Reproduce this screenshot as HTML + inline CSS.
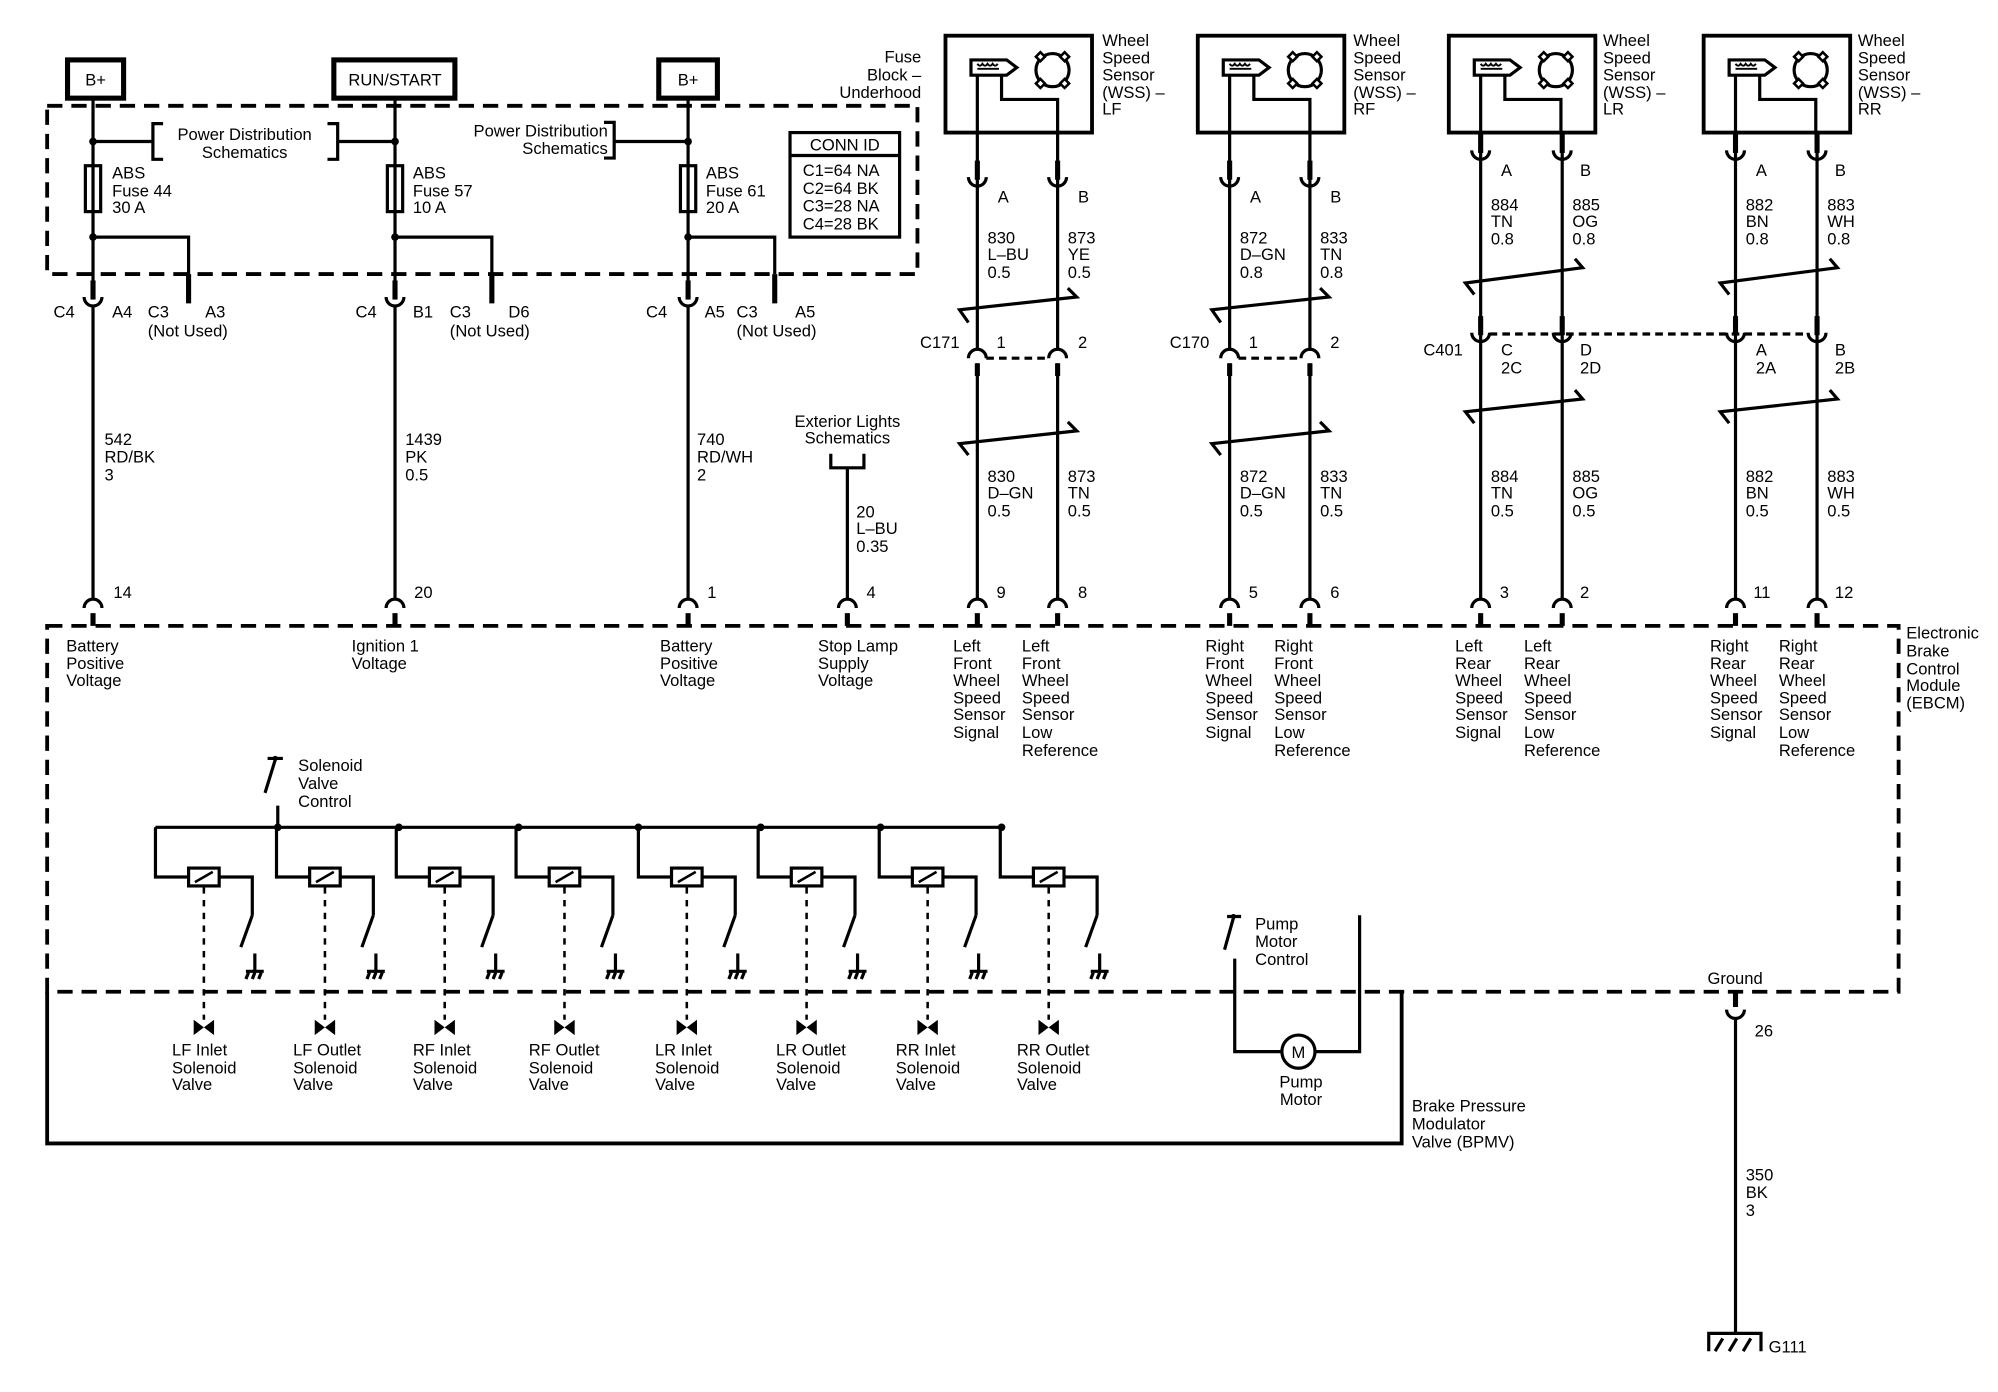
<!DOCTYPE html>
<html><head><meta charset="utf-8"><style>
html,body{margin:0;padding:0;background:#fff;}
svg{display:block;}
text{font-family:"Liberation Sans",Arial,sans-serif;font-size:13px;fill:#000;}
</style></head><body>
<svg width="1998" height="1392" viewBox="0 0 1568 1092" preserveAspectRatio="none" xmlns="http://www.w3.org/2000/svg">
<defs>
<g id="cupD"><path d="M-7,0 A7,7 0 0 0 7,0" fill="none" stroke="#000" stroke-width="2.5"/><line x1="0" y1="-13" x2="0" y2="2" stroke="#000" stroke-width="4"/></g>
<g id="capU"><path d="M-7,0 A7,7 0 0 1 7,0" fill="none" stroke="#000" stroke-width="2.5"/><line x1="0" y1="4" x2="0" y2="14" stroke="#000" stroke-width="4"/></g>
<g id="sensor">
<rect x="742" y="28" width="115" height="76" fill="none" stroke="#000" stroke-width="3"/>
<path d="M767,59 L767,104 M786,59 L786,78 L830,78 L830,104" fill="none" stroke="#000" stroke-width="2.5"/>
<path d="M762,47 L790,47 L798,53 L790,59 L762,59 Z" fill="#fff" stroke="#000" stroke-width="2.5"/>
<path d="M767,50 q2,3 4,0 q2,3 4,0 q2,3 4,0 q2,3 4,0 M767,54 L784,54" fill="none" stroke="#000" stroke-width="1.5"/>
<circle cx="826" cy="55" r="13" fill="none" stroke="#000" stroke-width="2.5"/>
<g fill="#fff" stroke="#000" stroke-width="2">
<rect x="814" y="42" width="5" height="5" transform="rotate(45 816.5 44.5)"/>
<rect x="833" y="42" width="5" height="5" transform="rotate(45 835.5 44.5)"/>
<rect x="814" y="63" width="5" height="5" transform="rotate(45 816.5 65.5)"/>
<rect x="833" y="63" width="5" height="5" transform="rotate(45 835.5 65.5)"/>
</g>
</g>
<g id="sol">
<path d="M-38,649 L-38,688 L-12,688 M12,688 L38,688 L38,718 M38,718 L29,743 M40,748 L40,762 M33,762 L47,762 M35,763 L33,768 M40,763 L38,768 M45,763 L43,768" fill="none" stroke="#000" stroke-width="2.5"/>
<rect x="-12" y="681" width="24" height="14" fill="#fff" stroke="#000" stroke-width="2.5"/>
<line x1="-7" y1="692" x2="7" y2="684" stroke="#000" stroke-width="2"/>
<line x1="0" y1="696" x2="0" y2="800" stroke="#000" stroke-width="2" stroke-dasharray="5 5"/>
<path d="M-8,800 L0,806 L-8,812 Z M8,800 L0,806 L8,812 Z" fill="#000"/>
</g>
</defs>
<g fill="none" stroke="#000">
<!-- power boxes -->
<rect x="53" y="47" width="44" height="30" stroke-width="4"/>
<rect x="262" y="47" width="95" height="30" stroke-width="4"/>
<rect x="517" y="47" width="46" height="30" stroke-width="4"/>
<!-- dashed fuse block -->
<rect x="37" y="83" width="683" height="132" stroke-width="3" stroke-dasharray="12 7"/>
<path d="M73,77 L73,230 M310,77 L310,230 M540,77 L540,230" stroke-width="2.5"/>
<path d="M73,186 L148,186 L148,215 M310,186 L386,186 L386,215 M540,186 L608,186 L608,215" stroke-width="2.5"/>
<path d="M148,215 L148,238 M386,215 L386,238 M608,215 L608,238" stroke-width="4"/>
<path d="M73,111 L120,111 M128,97 L120,97 L120,125 L128,125 M257,97 L265,97 L265,125 L257,125 M265,111 L310,111" stroke-width="2.5"/>
<path d="M474,96 L482,96 L482,124 L474,124 M482,111 L540,111" stroke-width="2.5"/>
<rect x="67" y="130" width="12" height="36" stroke-width="2.5"/>
<rect x="304" y="130" width="12" height="36" stroke-width="2.5"/>
<rect x="534" y="130" width="12" height="36" stroke-width="2.5"/>
<rect x="620" y="104" width="86" height="82" stroke-width="2.5"/>
<line x1="620" y1="122" x2="706" y2="122" stroke-width="2.5"/>
<!-- main wires -->
<path d="M73,240 L73,471 M310,240 L310,471 M540,240 L540,471 M665,367 L665,471 M652,356 L652,367 L678,367 L678,356" stroke-width="2.5"/>
<!-- EBCM & BPMV -->
<path d="M37,491 L1490,491 L1490,778 L37,778 Z" stroke-width="3" stroke-dasharray="12 7"/>
<path d="M37,778 L37,897 L1100,897 L1100,778" stroke-width="3"/>
<!-- sensor wiring LF/RF -->
<path d="M767,104 L767,274 M830,104 L830,274 M767,285 L767,471 M830,285 L830,471" stroke-width="2.5"/>
<path d="M965,104 L965,274 M1028,104 L1028,274 M965,285 L965,471 M1028,285 L1028,471" stroke-width="2.5"/>
<path d="M760,253 L753,243 L845,233 L838,226 M760,357 L753,348 L845,338 L838,331" stroke-width="2.5"/>
<path d="M958,253 L951,243 L1043,233 L1036,226 M958,357 L951,348 L1043,338 L1036,331" stroke-width="2.5"/>
<path d="M774,281 L823,281 M972,281 L1021,281" stroke-width="2.5" stroke-dasharray="6 4"/>
<!-- LR/RR -->
<path d="M1162,104 L1162,471 M1226,104 L1226,471 M1362,104 L1362,471 M1426,104 L1426,471" stroke-width="2.5"/>
<path d="M1157,231 L1150,222 L1242,210 L1236,203 M1157,332 L1150,323 L1242,313 L1236,306" stroke-width="2.5"/>
<path d="M1357,231 L1350,222 L1442,210 L1436,203 M1357,332 L1350,323 L1442,313 L1436,306" stroke-width="2.5"/>
<path d="M1169,262 L1419,262" stroke-width="2.5" stroke-dasharray="6 4"/>
<!-- solenoid control -->
<path d="M210,595 L222,595 M216,596 L208,622 M218,632 L218,649 M122,649 L788,649" stroke-width="2.5"/>
<!-- pump -->
<path d="M963,719 L974,719 M968,720 L961,745 M969,752 L969,825 L1006,825 M1032,825 L1067,825 L1067,718" stroke-width="2.5"/>
<circle cx="1019" cy="825" r="13" stroke-width="2.5"/>
<!-- ground -->
<path d="M1362,778 L1362,790" stroke-width="4"/>
<path d="M1355,792 A7,7 0 0 0 1369,792 M1362,799 L1362,1046 M1341,1060 L1341,1046 L1382,1046 L1382,1060 M1346,1060 L1352,1050 M1357,1060 L1363,1050 M1368,1060 L1374,1050" stroke-width="2.5"/>
</g>
<g fill="#000">
<circle cx="73" cy="111" r="3"/><circle cx="310" cy="111" r="3"/><circle cx="540" cy="111" r="3"/>
<circle cx="73" cy="186" r="3"/><circle cx="310" cy="186" r="3"/><circle cx="540" cy="186" r="3"/>
<circle cx="218" cy="649" r="3"/><circle cx="313" cy="649" r="3"/><circle cx="407" cy="649" r="3"/><circle cx="501" cy="649" r="3"/><circle cx="597" cy="649" r="3"/><circle cx="691" cy="649" r="3"/><circle cx="786" cy="649" r="3"/>
<circle cx="216" cy="595" r="2"/><circle cx="968" cy="719" r="2"/>
</g>
<!-- connectors -->
<use href="#cupD" x="73" y="233"/><use href="#cupD" x="310" y="233"/><use href="#cupD" x="540" y="233"/>
<use href="#capU" x="73" y="477"/><use href="#capU" x="310" y="477"/><use href="#capU" x="540" y="477"/><use href="#capU" x="665" y="477"/>
<use href="#capU" x="767" y="477"/><use href="#capU" x="830" y="477"/><use href="#capU" x="965" y="477"/><use href="#capU" x="1028" y="477"/>
<use href="#capU" x="1162" y="477"/><use href="#capU" x="1226" y="477"/><use href="#capU" x="1362" y="477"/><use href="#capU" x="1426" y="477"/>
<use href="#cupD" x="767" y="139"/><use href="#cupD" x="830" y="139"/><use href="#cupD" x="965" y="139"/><use href="#cupD" x="1028" y="139"/>
<use href="#cupD" x="1162" y="118"/><use href="#cupD" x="1226" y="118"/><use href="#cupD" x="1362" y="118"/><use href="#cupD" x="1426" y="118"/>
<use href="#cupD" x="1162" y="261"/><use href="#cupD" x="1226" y="261"/><use href="#cupD" x="1362" y="261"/><use href="#cupD" x="1426" y="261"/>
<use href="#capU" x="767" y="281"/><use href="#capU" x="830" y="281"/><use href="#capU" x="965" y="281"/><use href="#capU" x="1028" y="281"/>
<!-- sensors -->
<use href="#sensor"/><use href="#sensor" x="198"/><use href="#sensor" x="395"/><use href="#sensor" x="595"/>
<!-- solenoids -->
<use href="#sol" x="160"/><use href="#sol" x="255"/><use href="#sol" x="349"/><use href="#sol" x="443"/><use href="#sol" x="539"/><use href="#sol" x="633"/><use href="#sol" x="728"/><use href="#sol" x="823"/>

<!-- TEXT -->
<text x="75" y="67" text-anchor="middle" font-size="14">B+</text>
<text x="310" y="67" text-anchor="middle" font-size="14">RUN/START</text>
<text x="540" y="67" text-anchor="middle" font-size="14">B+</text>
<text x="192" y="110" text-anchor="middle">Power Distribution</text>
<text x="192" y="124" text-anchor="middle">Schematics</text>
<text x="477" y="107" text-anchor="end">Power Distribution</text>
<text x="477" y="121" text-anchor="end">Schematics</text>
<text x="723" y="49" text-anchor="end">Fuse</text>
<text x="723" y="63" text-anchor="end">Block –</text>
<text x="723" y="77" text-anchor="end">Underhood</text>
<text x="88" y="140">ABS</text><text x="88" y="154">Fuse 44</text><text x="88" y="167">30 A</text>
<text x="324" y="140">ABS</text><text x="324" y="154">Fuse 57</text><text x="324" y="167">10 A</text>
<text x="554" y="140">ABS</text><text x="554" y="154">Fuse 61</text><text x="554" y="167">20 A</text>
<text x="663" y="118" text-anchor="middle">CONN ID</text>
<text x="630" y="138">C1=64 NA</text><text x="630" y="152">C2=64 BK</text><text x="630" y="166">C3=28 NA</text><text x="630" y="180">C4=28 BK</text>
<text x="42" y="249">C4</text><text x="88" y="249">A4</text><text x="116" y="249">C3</text><text x="161" y="249">A3</text><text x="116" y="264">(Not Used)</text>
<text x="279" y="249">C4</text><text x="324" y="249">B1</text><text x="353" y="249">C3</text><text x="399" y="249">D6</text><text x="353" y="264">(Not Used)</text>
<text x="507" y="249">C4</text><text x="553" y="249">A5</text><text x="578" y="249">C3</text><text x="624" y="249">A5</text><text x="578" y="264">(Not Used)</text>
<text x="82" y="349">542</text><text x="82" y="363">RD/BK</text><text x="82" y="377">3</text>
<text x="318" y="349">1439</text><text x="318" y="363">PK</text><text x="318" y="377">0.5</text>
<text x="547" y="349">740</text><text x="547" y="363">RD/WH</text><text x="547" y="377">2</text>
<text x="665" y="335" text-anchor="middle">Exterior Lights</text><text x="665" y="348" text-anchor="middle">Schematics</text>
<text x="672" y="406">20</text><text x="672" y="419">L–BU</text><text x="672" y="433">0.35</text>
<text x="89" y="469">14</text><text x="325" y="469">20</text><text x="555" y="469">1</text><text x="680" y="469">4</text>
<text x="52" y="511">Battery</text><text x="52" y="525">Positive</text><text x="52" y="538">Voltage</text>
<text x="276" y="511">Ignition 1</text><text x="276" y="525">Voltage</text>
<text x="518" y="511">Battery</text><text x="518" y="525">Positive</text><text x="518" y="538">Voltage</text>
<text x="642" y="511">Stop Lamp</text><text x="642" y="525">Supply</text><text x="642" y="538">Voltage</text>
<!-- sensor labels -->
<text x="865" y="36">Wheel</text><text x="865" y="50">Speed</text><text x="865" y="63">Sensor</text><text x="865" y="77">(WSS) –</text><text x="865" y="90">LF</text>
<text x="1062" y="36">Wheel</text><text x="1062" y="50">Speed</text><text x="1062" y="63">Sensor</text><text x="1062" y="77">(WSS) –</text><text x="1062" y="90">RF</text>
<text x="1258" y="36">Wheel</text><text x="1258" y="50">Speed</text><text x="1258" y="63">Sensor</text><text x="1258" y="77">(WSS) –</text><text x="1258" y="90">LR</text>
<text x="1458" y="36">Wheel</text><text x="1458" y="50">Speed</text><text x="1458" y="63">Sensor</text><text x="1458" y="77">(WSS) –</text><text x="1458" y="90">RR</text>
<text x="783" y="159">A</text><text x="846" y="159">B</text><text x="981" y="159">A</text><text x="1044" y="159">B</text>
<text x="1178" y="138">A</text><text x="1240" y="138">B</text><text x="1378" y="138">A</text><text x="1440" y="138">B</text>
<text x="775" y="191">830</text><text x="775" y="204">L–BU</text><text x="775" y="218">0.5</text>
<text x="838" y="191">873</text><text x="838" y="204">YE</text><text x="838" y="218">0.5</text>
<text x="973" y="191">872</text><text x="973" y="204">D–GN</text><text x="973" y="218">0.8</text>
<text x="1036" y="191">833</text><text x="1036" y="204">TN</text><text x="1036" y="218">0.8</text>
<text x="1170" y="165">884</text><text x="1170" y="178">TN</text><text x="1170" y="192">0.8</text>
<text x="1234" y="165">885</text><text x="1234" y="178">OG</text><text x="1234" y="192">0.8</text>
<text x="1370" y="165">882</text><text x="1370" y="178">BN</text><text x="1370" y="192">0.8</text>
<text x="1434" y="165">883</text><text x="1434" y="178">WH</text><text x="1434" y="192">0.8</text>
<text x="722" y="273">C171</text><text x="782" y="273">1</text><text x="846" y="273">2</text>
<text x="918" y="273">C170</text><text x="980" y="273">1</text><text x="1044" y="273">2</text>
<text x="1117" y="279">C401</text><text x="1178" y="279">C</text><text x="1178" y="293">2C</text><text x="1240" y="279">D</text><text x="1240" y="293">2D</text>
<text x="1378" y="279">A</text><text x="1378" y="293">2A</text><text x="1440" y="279">B</text><text x="1440" y="293">2B</text>
<text x="775" y="378">830</text><text x="775" y="391">D–GN</text><text x="775" y="405">0.5</text>
<text x="838" y="378">873</text><text x="838" y="391">TN</text><text x="838" y="405">0.5</text>
<text x="973" y="378">872</text><text x="973" y="391">D–GN</text><text x="973" y="405">0.5</text>
<text x="1036" y="378">833</text><text x="1036" y="391">TN</text><text x="1036" y="405">0.5</text>
<text x="1170" y="378">884</text><text x="1170" y="391">TN</text><text x="1170" y="405">0.5</text>
<text x="1234" y="378">885</text><text x="1234" y="391">OG</text><text x="1234" y="405">0.5</text>
<text x="1370" y="378">882</text><text x="1370" y="391">BN</text><text x="1370" y="405">0.5</text>
<text x="1434" y="378">883</text><text x="1434" y="391">WH</text><text x="1434" y="405">0.5</text>
<text x="782" y="469">9</text><text x="846" y="469">8</text><text x="980" y="469">5</text><text x="1044" y="469">6</text>
<text x="1177" y="469">3</text><text x="1240" y="469">2</text><text x="1376" y="469">11</text><text x="1440" y="469">12</text>
<text x="748" y="511">Left</text><text x="748" y="525">Front</text><text x="748" y="538">Wheel</text><text x="748" y="552">Speed</text><text x="748" y="565">Sensor</text><text x="748" y="579">Signal</text>
<text x="802" y="511">Left</text><text x="802" y="525">Front</text><text x="802" y="538">Wheel</text><text x="802" y="552">Speed</text><text x="802" y="565">Sensor</text><text x="802" y="579">Low</text><text x="802" y="593">Reference</text>
<text x="946" y="511">Right</text><text x="946" y="525">Front</text><text x="946" y="538">Wheel</text><text x="946" y="552">Speed</text><text x="946" y="565">Sensor</text><text x="946" y="579">Signal</text>
<text x="1000" y="511">Right</text><text x="1000" y="525">Front</text><text x="1000" y="538">Wheel</text><text x="1000" y="552">Speed</text><text x="1000" y="565">Sensor</text><text x="1000" y="579">Low</text><text x="1000" y="593">Reference</text>
<text x="1142" y="511">Left</text><text x="1142" y="525">Rear</text><text x="1142" y="538">Wheel</text><text x="1142" y="552">Speed</text><text x="1142" y="565">Sensor</text><text x="1142" y="579">Signal</text>
<text x="1196" y="511">Left</text><text x="1196" y="525">Rear</text><text x="1196" y="538">Wheel</text><text x="1196" y="552">Speed</text><text x="1196" y="565">Sensor</text><text x="1196" y="579">Low</text><text x="1196" y="593">Reference</text>
<text x="1342" y="511">Right</text><text x="1342" y="525">Rear</text><text x="1342" y="538">Wheel</text><text x="1342" y="552">Speed</text><text x="1342" y="565">Sensor</text><text x="1342" y="579">Signal</text>
<text x="1396" y="511">Right</text><text x="1396" y="525">Rear</text><text x="1396" y="538">Wheel</text><text x="1396" y="552">Speed</text><text x="1396" y="565">Sensor</text><text x="1396" y="579">Low</text><text x="1396" y="593">Reference</text>
<text x="1496" y="501">Electronic</text><text x="1496" y="515">Brake</text><text x="1496" y="529">Control</text><text x="1496" y="542">Module</text><text x="1496" y="556">(EBCM)</text>
<text x="234" y="605">Solenoid</text><text x="234" y="619">Valve</text><text x="234" y="633">Control</text>
<text x="135" y="828">LF Inlet</text><text x="135" y="842">Solenoid</text><text x="135" y="855">Valve</text>
<text x="230" y="828">LF Outlet</text><text x="230" y="842">Solenoid</text><text x="230" y="855">Valve</text>
<text x="324" y="828">RF Inlet</text><text x="324" y="842">Solenoid</text><text x="324" y="855">Valve</text>
<text x="415" y="828">RF Outlet</text><text x="415" y="842">Solenoid</text><text x="415" y="855">Valve</text>
<text x="514" y="828">LR Inlet</text><text x="514" y="842">Solenoid</text><text x="514" y="855">Valve</text>
<text x="609" y="828">LR Outlet</text><text x="609" y="842">Solenoid</text><text x="609" y="855">Valve</text>
<text x="703" y="828">RR Inlet</text><text x="703" y="842">Solenoid</text><text x="703" y="855">Valve</text>
<text x="798" y="828">RR Outlet</text><text x="798" y="842">Solenoid</text><text x="798" y="855">Valve</text>
<text x="985" y="729">Pump</text><text x="985" y="743">Motor</text><text x="985" y="757">Control</text>
<text x="1019" y="830" text-anchor="middle">M</text>
<text x="1021" y="853" text-anchor="middle">Pump</text><text x="1021" y="867" text-anchor="middle">Motor</text>
<text x="1108" y="872">Brake Pressure</text><text x="1108" y="886">Modulator</text><text x="1108" y="900">Valve (BPMV)</text>
<text x="1340" y="772">Ground</text>
<text x="1377" y="813">26</text>
<text x="1370" y="926">350</text><text x="1370" y="940">BK</text><text x="1370" y="954">3</text>
<text x="1388" y="1061">G111</text>
</svg>
</body></html>
